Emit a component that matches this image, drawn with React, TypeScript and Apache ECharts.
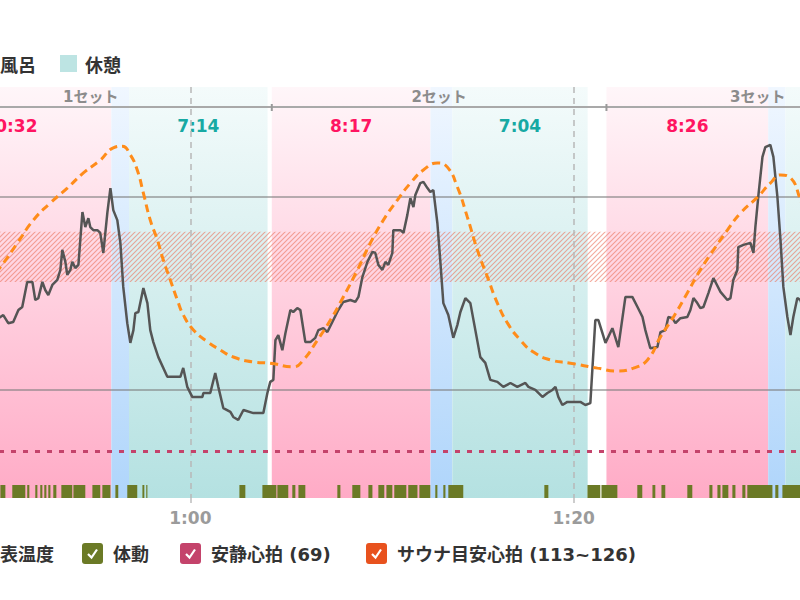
import React, { useEffect, useRef } from "react";
import * as echarts from "echarts";

// ---- data (minutes since start) ----
const xRange = [40, 100];
const xTickStep = 20;

const saunaPeriods: [number, number, string][] = [
  [45.35, 55.88, "10:32"],
  [64.25, 72.53, "8:17"],
  [81.71, 90.15, "8:26"],
];
const waterPeriods: [number, number, string][] = [
  [55.88, 56.8, ""],
  [72.53, 73.67, ""],
  [90.15, 91.05, ""],
];
const restPeriods: [number, number, string][] = [
  [56.8, 64.03, "7:14"],
  [73.67, 80.73, "7:04"],
  [91.05, 97.5, "6:27"],
];
const setRanges: [number, number, string][] = [
  [45.35, 64.25, "1セット"],
  [64.25, 81.71, "2セット"],
  [81.71, 97.5, "3セット"],
];

const restingHR = 69;
const targetHR: [number, number] = [113, 126];
const hrGridValues = [85, 135];

const heartRate: [number, number][] = [
  [45.4, 86], [46.5, 89], [47.5, 93], [48.5, 97], [49.3, 101], [49.8, 103],
  [50.09, 103.9], [50.24, 104.4], [50.5, 102.3], [50.76, 102.6], [51.03, 105.7], [51.23, 106.5],
  [51.49, 113.0], [51.76, 113.0], [51.91, 108.3], [52.07, 108.8], [52.28, 113.0], [52.43, 110.9],
  [52.59, 109.6], [52.8, 112.2], [53.06, 113.5], [53.22, 116.1], [53.32, 121.3], [53.48, 118.2],
  [53.58, 114.8], [53.74, 116.1], [53.84, 118.2], [54.0, 116.6], [54.16, 117.4], [54.37, 131.1],
  [54.52, 127.2], [54.68, 129.5], [54.78, 127.2], [54.94, 126.4], [55.15, 126.4], [55.3, 125.7],
  [55.46, 120.5], [55.67, 130.9], [55.83, 137.3], [55.98, 131.6], [56.19, 129.0], [56.35, 123.1],
  [56.5, 111.7], [56.71, 102.3], [56.87, 97.2], [57.03, 100.5], [57.13, 104.9], [57.29, 105.2],
  [57.55, 111.4], [57.76, 107.5], [57.91, 100.5], [58.07, 97.4], [58.33, 93.5], [58.8, 88.4],
  [59.48, 88.4], [59.63, 90.7], [59.84, 85.8], [60.1, 83.2], [60.63, 83.2], [60.68, 84.2],
  [61.04, 84.2], [61.3, 89.4], [61.46, 85.8], [61.72, 80.3], [62.09, 79.3], [62.24, 78.0],
  [62.5, 77.2], [62.77, 79.8], [63.29, 79.0], [63.81, 79.0], [64.02, 84.2], [64.17, 87.1],
  [64.33, 87.6], [64.44, 97.9], [64.59, 99.2], [64.8, 95.3], [64.96, 99.7], [65.22, 105.7],
  [65.37, 105.2], [65.58, 106.2], [65.74, 105.7], [66.0, 97.4], [66.26, 97.4], [66.52, 98.5],
  [66.68, 100.5], [66.94, 101.0], [67.15, 100.0], [67.41, 102.6], [67.72, 105.7], [67.98, 107.8],
  [68.35, 108.3], [68.61, 107.8], [68.77, 109.1], [68.98, 114.3], [69.24, 118.2], [69.5, 120.8],
  [69.65, 120.5], [69.81, 117.4], [70.02, 116.1], [70.18, 118.2], [70.33, 117.4], [70.54, 120.5],
  [70.59, 126.4], [70.96, 126.4], [71.12, 125.7], [71.32, 130.3], [71.48, 134.7], [71.64, 132.4],
  [71.74, 135.5], [72.0, 138.6], [72.16, 138.9], [72.37, 137.3], [72.52, 136.3], [72.68, 136.8],
  [72.89, 128.2], [73.05, 117.9], [73.2, 107.5], [73.46, 104.4], [73.72, 98.5], [73.93, 101.8],
  [74.09, 105.2], [74.35, 108.8], [74.61, 107.5], [74.87, 100.5], [75.13, 93.5], [75.39, 92.0],
  [75.65, 87.6], [76.02, 87.1], [76.33, 85.8], [76.7, 86.8], [77.06, 85.8], [77.48, 86.8],
  [77.64, 85.8], [78.0, 85.0], [78.37, 83.2], [78.63, 84.2], [78.89, 85.0], [79.05, 85.8],
  [79.2, 83.2], [79.41, 81.1], [79.67, 81.9], [80.35, 81.9], [80.61, 81.1], [80.87, 81.6],
  [81.13, 103.1], [81.29, 103.1], [81.66, 97.2], [82.02, 101.0], [82.33, 96.1], [82.7, 109.1],
  [83.06, 109.1], [83.33, 106.5], [83.59, 103.9], [83.74, 100.5], [84.0, 95.8], [84.37, 96.1],
  [84.53, 100.0], [84.79, 100.5], [84.94, 103.9], [85.15, 103.6], [85.31, 102.3], [85.57, 103.6],
  [85.93, 103.9], [86.09, 105.7], [86.25, 108.8], [86.45, 107.5], [86.61, 106.2], [86.77, 106.5],
  [87.03, 110.1], [87.29, 114.0], [87.66, 110.4], [88.02, 108.3], [88.18, 108.8], [88.33, 113.5],
  [88.54, 116.1], [88.59, 122.0], [88.86, 122.6], [89.22, 123.1], [89.38, 120.5], [89.48, 127.2],
  [89.64, 135.5], [89.85, 145.4], [90.0, 147.9], [90.26, 148.5], [90.42, 145.4], [90.63, 135.0],
  [90.79, 123.9], [90.94, 111.7], [91.15, 103.9], [91.31, 99.2], [91.46, 103.9], [91.67, 108.8],
  [91.83, 108.3], [92.1, 104], [92.5, 98], [93.0, 95], [94.0, 90], [95.0, 86], [96.0, 83], [97.0, 82],
];

const skinTemp: [number, number][] = [
  [45.4, 33.2], [46.5, 33.4], [47.5, 34.0], [48.5, 34.7], [49.3, 35.2],
  [50.09, 35.62], [50.97, 36.2], [51.81, 36.76], [52.7, 37.18], [53.58, 37.54], [54.42, 37.91],
  [55.3, 38.22], [55.98, 38.52], [56.45, 38.56], [56.87, 38.35], [57.23, 37.98], [57.55, 37.42],
  [57.91, 36.76], [58.28, 36.28], [58.59, 35.79], [58.96, 35.3], [59.32, 34.82], [59.64, 34.45],
  [60.16, 34.09], [60.89, 33.8], [61.57, 33.6], [62.24, 33.43], [63.29, 33.31], [64.17, 33.28],
  [65.37, 33.19], [65.9, 33.36], [66.63, 33.84], [67.31, 34.33], [67.98, 34.89], [68.72, 35.55],
  [69.39, 36.2], [70.07, 36.76], [70.8, 37.25], [71.48, 37.66], [72.16, 37.98], [72.89, 38.15],
  [73.41, 38.05], [73.93, 37.57], [74.45, 36.84], [74.98, 36.03], [75.5, 35.38], [76.02, 34.74],
  [76.54, 34.26], [77.22, 33.84], [77.9, 33.55], [78.79, 33.36], [79.83, 33.28], [81.24, 33.16],
  [82.28, 33.09], [83.12, 33.16], [83.85, 33.36], [84.53, 33.92], [85.2, 34.4], [85.93, 34.99],
  [86.61, 35.55], [87.29, 36.03], [88.02, 36.52], [88.7, 36.93], [89.59, 37.32], [90.26, 37.66],
  [90.79, 37.86], [91.31, 37.79], [91.83, 37.25], [92.5, 36.3], [93.5, 35.2], [95.0, 34.2], [97.0, 33.6],
];
const tempRange = [30, 40];

const movement: [number, number][] = [
  [45.5, 45.9], [46.6, 47.3], [48.0, 48.4], [49.0, 49.6],
  [50.09, 50.35], [50.71, 51.39], [51.49, 51.6], [51.91, 52.02], [52.17, 52.28], [52.38, 52.49],
  [52.59, 52.7], [52.85, 53.01], [53.27, 53.84], [53.9, 54.52], [54.89, 55.3], [55.41, 55.83],
  [56.09, 56.24], [56.71, 57.23], [57.5, 57.6], [57.7, 57.76], [62.56, 62.87], [63.76, 64.49],
  [64.54, 65.11], [65.32, 65.48], [65.64, 66.0], [67.67, 67.83], [68.45, 68.87], [69.29, 69.5],
  [69.81, 70.12], [70.23, 70.54], [70.64, 71.27], [71.37, 71.85], [71.95, 72.52], [72.78, 72.89],
  [73.2, 73.31], [73.46, 74.24], [78.47, 78.68], [80.72, 81.39], [81.45, 82.28], [83.32, 83.58],
  [84.11, 84.26], [84.58, 84.78], [85.93, 86.19], [87.08, 87.24], [87.5, 87.66], [87.76, 88.07],
  [88.28, 88.44], [88.8, 88.96], [89.06, 90.37], [90.52, 90.68], [90.89, 91.83], [91.95, 92.4],
  [92.8, 93.1], [94.5, 94.7],
];

const topLegendNames = ["サウナ", "水風呂", "休憩"];
const topLegendColors = ["#ffb3c9", "#b3d7fa", "#bde4e3"];
const bottomLegendNames = ["心拍", "体表温度", "体動", "安静心拍 (69)", "サウナ目安心拍 (113~126)"];
const bottomLegendColors = ["#555555", "#ff8c1a", "#6b7a26", "#c4436b", "#e8521e"];

// ---- layout (page coordinates) ----
const OFFSET = 193;
const topLegendX = [-147, -43, 60];
const bottomLegendX = [-146, -49, 82, 180, 366];
const JP = '"Noto Sans CJK JP", "Noto Sans", sans-serif';
const LEGEND_FONT = '"DejaVu Sans", "Noto Sans CJK JP", sans-serif';

function makeHatch() {
  const c = document.createElement("canvas");
  const s = 5;
  c.width = s;
  c.height = s;
  const ctx = c.getContext("2d")!;
  ctx.strokeStyle = "rgba(236,118,96,0.62)";
  ctx.lineWidth = 1.1;
  ctx.beginPath();
  ctx.moveTo(0, s);
  ctx.lineTo(s, 0);
  ctx.moveTo(-1, 1);
  ctx.lineTo(1, -1);
  ctx.moveTo(s - 1, s + 1);
  ctx.lineTo(s + 1, s - 1);
  ctx.stroke();
  return c;
}

function fmtTime(v: number) {
  const h = Math.floor(v / 60);
  const m = Math.round(v - h * 60);
  return `${h}:${String(m).padStart(2, "0")}`;
}

export default function App() {
  const ref = useRef<HTMLDivElement>(null);

  useEffect(() => {
    const chart = echarts.init(ref.current!, null, { renderer: "svg" });
    const grad = (top: string, bottom: string) =>
      new echarts.graphic.LinearGradient(0, 0, 0, 1, [
        { offset: 0, color: top },
        { offset: 1, color: bottom },
      ]);
    const bandArea = (periods: [number, number, string][], top: string, bottom: string, labelColor: string) => ({
      silent: true,
      itemStyle: { color: grad(top, bottom) },
      label: {
        show: true,
        position: "insideTop",
        distance: 30,
        color: labelColor,
        fontFamily: '"DejaVu Sans", sans-serif',
        fontWeight: "bold",
        fontSize: 17,
      },
      data: periods.map((p) => [{ name: p[2], xAxis: p[0] }, { xAxis: p[1] }]),
    });

    const graphics: any[] = [];
    topLegendNames.forEach((name, i) => {
      const x = topLegendX[i] + OFFSET;
      graphics.push({ type: "rect", shape: { x, y: 55, width: 17, height: 17 }, style: { fill: topLegendColors[i] } });
      graphics.push({
        type: "text",
        x: x + 25,
        y: 63.5,
        style: { text: name, fill: "#333", font: `bold 18px ${JP}`, verticalAlign: "middle" },
      });
    });
    bottomLegendNames.forEach((name, i) => {
      const x = bottomLegendX[i] + OFFSET;
      const y = 543;
      graphics.push({ type: "rect", shape: { x, y, width: 21, height: 21, r: 3 }, style: { fill: bottomLegendColors[i] } });
      graphics.push({
        type: "polyline",
        shape: { points: [[x + 6, y + 11], [x + 9.5, y + 14.5], [x + 15, y + 6.5]] },
        style: { stroke: "#fff", lineWidth: 2.2, fill: null },
      });
      graphics.push({
        type: "text",
        x: x + 31,
        y: y + 11,
        style: { text: name, fill: "#333", font: `bold 18px ${LEGEND_FONT}`, verticalAlign: "middle" },
      });
    });

    const gridBase = { left: 0, right: 0, outerBoundsMode: "none", containLabel: false };

    chart.setOption({
      animation: false,
      textStyle: { fontFamily: JP },
      grid: [
        { ...gridBase, top: 87, bottom: 102 },
        { ...gridBase, top: 485, bottom: 102 },
        { ...gridBase, top: 87, height: 20 },
      ],
      xAxis: [
        {
          type: "value",
          gridIndex: 0,
          min: xRange[0],
          max: xRange[1],
          interval: xTickStep,
          z: 2,
          axisLine: { show: false },
          axisTick: { show: true, length: 9, lineStyle: { color: "#bdbdbd", width: 1.5, type: [5, 4] } },
          splitLine: { show: true, lineStyle: { color: "#b8b8b8", width: 1.5, type: [6, 5] } },
          axisLabel: {
            formatter: fmtTime,
            color: "#9b9b9b",
            fontFamily: '"DejaVu Sans", sans-serif',
            fontWeight: "bold",
            fontSize: 17,
            margin: 11,
          },
        },
        { type: "value", gridIndex: 1, min: xRange[0], max: xRange[1], show: false },
        {
          type: "value",
          gridIndex: 2,
          min: xRange[0],
          max: xRange[1],
          z: 3,
          axisLine: { show: true, onZero: false, lineStyle: { color: "#a9a9a9", width: 2 } },
          axisTick: { show: false },
          axisLabel: { show: false },
          splitLine: { show: false },
        },
      ],
      yAxis: [
        { type: "value", gridIndex: 0, min: 57, max: 163.5, show: false, splitLine: { show: false } },
        { type: "value", gridIndex: 0, min: tempRange[0], max: tempRange[1], show: false, splitLine: { show: false } },
        { type: "value", gridIndex: 1, min: 0, max: 1, show: false },
        { type: "value", gridIndex: 2, min: 0, max: 1, show: false },
      ],
      graphic: graphics,
      series: [
        {
          name: "サウナ",
          type: "line",
          data: [],
          z: 1,
          markArea: bandArea(saunaPeriods, "#fff6f9", "#ffabc6", "#ff1461"),
        },
        {
          name: "水風呂",
          type: "line",
          data: [],
          z: 1,
          markArea: bandArea(waterPeriods, "#f0f7ff", "#afd5fb", "#3b8fd9"),
        },
        {
          name: "休憩",
          type: "line",
          data: [],
          z: 1,
          markArea: bandArea(restPeriods, "#f4fbfb", "#b4e1e1", "#17a9a3"),
        },
        {
          name: "サウナ目安心拍 (113~126)",
          type: "line",
          data: [],
          z: 3,
          markArea: {
            silent: true,
            itemStyle: { color: { image: makeHatch(), repeat: "repeat" } as any },
            data: [[{ yAxis: targetHR[0] }, { yAxis: targetHR[1] }]],
          },
        },
        {
          name: "grid",
          type: "line",
          data: [],
          z: 3,
          markLine: {
            silent: true,
            symbol: ["none", "none"],
            label: { show: false },
            lineStyle: { color: "rgba(125,125,125,0.75)", width: 1.5, type: "solid" },
            data: hrGridValues.map((v) => ({ yAxis: v })),
          },
        },
        {
          name: "安静心拍 (69)",
          type: "line",
          data: [],
          z: 3,
          markLine: {
            silent: true,
            symbol: ["none", "none"],
            label: { show: false },
            lineStyle: { color: "#c4436b", width: 3, type: [5, 7] },
            data: [{ yAxis: restingHR }],
          },
        },
        {
          name: "体動",
          type: "custom",
          xAxisIndex: 1,
          yAxisIndex: 2,
          z: 3,
          encode: { x: [0, 1] },
          data: movement,
          renderItem: (params: any, api: any) => {
            const a = api.coord([api.value(0), 1]);
            const b = api.coord([api.value(1), 0]);
            return {
              type: "rect",
              shape: { x: a[0], y: a[1], width: Math.max(b[0] - a[0], 1), height: b[1] - a[1] },
              style: { fill: "#6b7a26" },
            };
          },
        },
        {
          name: "sets",
          type: "custom",
          xAxisIndex: 2,
          yAxisIndex: 3,
          z: 4,
          encode: { x: [0, 1] },
          data: setRanges.map((s) => [s[0], s[1]]),
          renderItem: (params: any, api: any) => {
            const s = api.coord([api.value(0), 0]);
            const mid = api.coord([(api.value(0) + api.value(1)) / 2, 0.5]);
            return {
              type: "group",
              children: [
                {
                  type: "line",
                  shape: { x1: s[0], y1: s[1] - 3, x2: s[0], y2: s[1] + 4 },
                  style: { stroke: "#9a9a9a", lineWidth: 2 },
                },
                {
                  type: "text",
                  x: mid[0],
                  y: mid[1],
                  style: {
                    text: setRanges[params.dataIndex][2],
                    fill: "#8c8c8c",
                    font: `bold 15px ${LEGEND_FONT}`,
                    align: "center",
                    verticalAlign: "middle",
                  },
                },
              ],
            };
          },
        },
        {
          name: "心拍",
          type: "line",
          data: heartRate,
          showSymbol: false,
          z: 5,
          lineStyle: { color: "#555555", width: 2.5 },
        },
        {
          name: "体表温度",
          type: "line",
          yAxisIndex: 1,
          data: skinTemp,
          smooth: 0.5,
          showSymbol: false,
          z: 6,
          lineStyle: { color: "#ff8c1a", width: 3, type: [8, 5] },
        },
      ],
    });
    return () => chart.dispose();
  }, []);

  return (
    <div style={{ position: "fixed", left: 0, top: 0, width: 800, height: 600, overflow: "hidden", background: "#fff" }}>
      <div ref={ref} style={{ position: "absolute", left: -OFFSET, top: 0, width: 1150, height: 600 }} />
    </div>
  );
}
